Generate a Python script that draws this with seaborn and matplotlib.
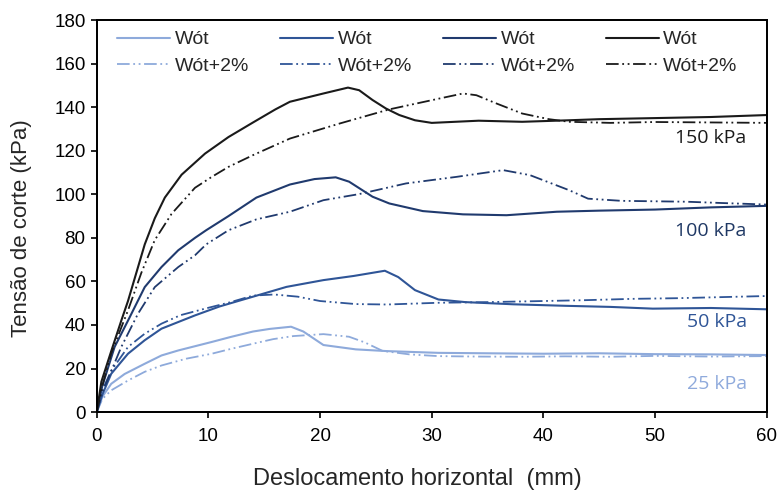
import numpy as np
import pandas as pd
import seaborn as sns
import matplotlib
matplotlib.use("Agg")
import matplotlib.pyplot as plt
from matplotlib.patches import Rectangle

# values (x: mm, y: kPa)
x_25 = [0, 0.5, 1.3, 2.5, 4.3, 5.8, 7.3, 10.3, 12, 14, 15.5, 17.4, 18.5, 20.3, 23.2, 26, 30.6, 35, 40, 45, 50, 55, 60]
y_25 = [0, 7, 13, 17.5, 22.2, 26, 28.3, 32.2, 34.5, 37, 38.2, 39.2, 37, 30.8, 28.8, 28, 27.2, 27, 26.8, 27, 26.6, 26.5, 26.2]
x_25p = [0, 0.5, 1.3, 2.8, 4.3, 5.8, 8, 10.3, 12, 14, 15.8, 17.6, 20.3, 22.6, 24, 25.6, 28, 30.6, 34, 37.9, 42, 46, 50, 55, 60]
y_25p = [0, 6, 10, 14.5, 18.5, 21.4, 24.5, 26.8, 29, 31.4, 33.5, 34.9, 35.8, 34.6, 32, 28.1, 26.5, 25.7, 25.5, 25.4, 25.6, 25.4, 25.8, 25.5, 25.7]

x_50 = [0, 0.5, 1.3, 2.8, 4.3, 5.8, 8.8, 11, 14, 17, 20.3, 23, 25.8, 27, 28.5, 30.6, 33, 37.3, 42, 46, 49.8, 55, 60]
y_50 = [0, 8, 17.6, 26.8, 33, 38.3, 44.4, 48.5, 53, 57.5, 60.6, 62.5, 64.9, 62, 56, 51.7, 50.5, 49.5, 48.8, 48.3, 47.5, 47.8, 47.2]
x_50p = [0, 0.5, 1.3, 2.8, 4.3, 5.8, 7.5, 9.7, 12, 14, 15.9, 18, 20, 23.2, 26, 30.6, 35, 40, 43.8, 48, 52, 56, 60]
y_50p = [0, 10, 19, 29.9, 36, 40.6, 44.5, 47.5, 50.5, 53.5, 54, 53, 51, 49.6, 49.4, 50.2, 50.5, 51, 51.4, 52, 52.3, 52.8, 53.3]

x_100 = [0, 0.5, 1.6, 2.8, 4.3, 5.8, 7.3, 8.8, 9.8, 11.8, 14.3, 17.3, 19.5, 21.4, 22.6, 24.7, 26.2, 29.2, 32.8, 36.7, 41.2, 45, 50, 55, 60]
y_100 = [0, 12, 29.9, 42, 57.4, 66.6, 74.3, 80, 83.5, 90, 98.5, 104.5, 107, 107.8, 105.8, 98.9, 95.8, 92.3, 90.8, 90.4, 92, 92.5, 93, 94, 94.7]
x_100p = [0, 0.5, 2.2, 3.7, 5.2, 7.3, 8.8, 9.8, 11.8, 14.3, 17.3, 20.3, 23.5, 27.7, 32.2, 36.4, 38.8, 42.3, 44, 47, 52.8, 56, 60]
y_100p = [0, 9, 29.9, 45.2, 57.4, 66.6, 72, 77, 83.5, 88.5, 92, 97.3, 100.1, 105, 108, 111.1, 108.8, 101.9, 98, 97, 96.6, 96, 95.3]

x_150 = [0, 0.42, 1.3, 2.2, 2.8, 3.55, 4.3, 5.2, 6.1, 7.6, 9.7, 11.8, 14, 16, 17.3, 20.3, 22.5, 23.5, 24.7, 25.9, 27.1, 28.5, 30, 34.2, 38.1, 42.3, 45, 50, 55, 60]
y_150 = [0, 14, 28, 42, 51, 64, 77, 89, 98.5, 109, 118.7, 126.3, 133, 139, 142.5, 146.3, 149, 147.8, 143.3, 139.4, 136.4, 134, 132.8, 133.8, 133.3, 134, 134.5, 135, 135.5, 136.4]
x_150p = [0, 0.5, 1.3, 2.8, 4, 5.2, 6.7, 8.8, 10.3, 11.8, 14, 17.3, 21.75, 26.2, 30.7, 32.8, 34, 35.8, 38.1, 40.5, 42.3, 46, 50, 55, 60]
y_150p = [0, 12, 27, 46.7, 64, 79, 91, 103, 108, 112.6, 118, 125.6, 132.5, 139, 144, 146.3, 145.5, 141.7, 137.1, 134.5, 133.3, 132.8, 133.2, 133, 132.8]

pressures = ["25 kPa", "50 kPa", "100 kPa", "150 kPa"]
colors = ["#8eaadb", "#2f5597", "#203a6e", "#1a1a1a"]
text_colors = ["#8faadc", "#2f5597", "#1f3864", "#1a1a1a"]
label_y = [12.9, 41.3, 83, 125.8]

series = [
    (x_25, y_25, x_25p, y_25p),
    (x_50, y_50, x_50p, y_50p),
    (x_100, y_100, x_100p, y_100p),
    (x_150, y_150, x_150p, y_150p),
]

sns.set_style("white")
plt.rcParams["font.family"] = ["Liberation Sans", "DejaVu Sans"]

fig, ax = plt.subplots(figsize=(7.8, 4.9), dpi=100)
fig.subplots_adjust(left=0.124, right=0.983, bottom=0.159, top=0.959)

dashdot = (7, 2, 1, 2, 1, 2)
for (xs, ys, xp, yp), c in zip(series, colors):
    sns.lineplot(x=xs, y=ys, color=c, lw=1.5, label="Wót", ax=ax)
    sns.lineplot(x=xp, y=yp, color=c, lw=1.3, label="Wót+2%", ax=ax)
    ax.lines[-1].set_dashes(dashdot)

for name, yv, c in zip(pressures, label_y, text_colors):
    ax.text(58.2, yv, name, color=c, fontsize=14, family="Open Sans",
            ha="right", va="center")

ax.set_xlim(0, 60)
ax.set_ylim(0, 180)
ax.set_xticks(range(0, 61, 10))
ax.set_yticks(range(0, 181, 20))
ax.tick_params(axis="both", direction="out", length=4.5, width=1.2, labelsize=13.5,
               bottom=True, left=True, colors="black")
ax.tick_params(axis="x", pad=7)
for s in ax.spines.values():
    s.set_visible(True)
    s.set_color("black")
    s.set_linewidth(1.3)
# full box round the plot area
ax.add_patch(Rectangle((0, 0), 1, 1, transform=ax.transAxes, fill=False,
                       edgecolor="black", lw=1.3, clip_on=False, zorder=5))

ax.set_xlabel("Deslocamento horizontal  (mm)", fontsize=17)
ax.set_ylabel("Tensão de corte (kPa)", fontsize=16)
ax.xaxis.set_label_coords(0.479, -0.143)
ax.yaxis.set_label_coords(-0.097, 0.47)

handles, labels = ax.get_legend_handles_labels()
ax.legend(handles, labels, ncol=4, loc="upper left", bbox_to_anchor=(0.015, 1.0),
          frameon=False, fontsize=14, handlelength=2.7, columnspacing=1.6,
          labelspacing=0.45, borderaxespad=0.15, handletextpad=0.25)

plt.savefig("out.png", dpi=100)
